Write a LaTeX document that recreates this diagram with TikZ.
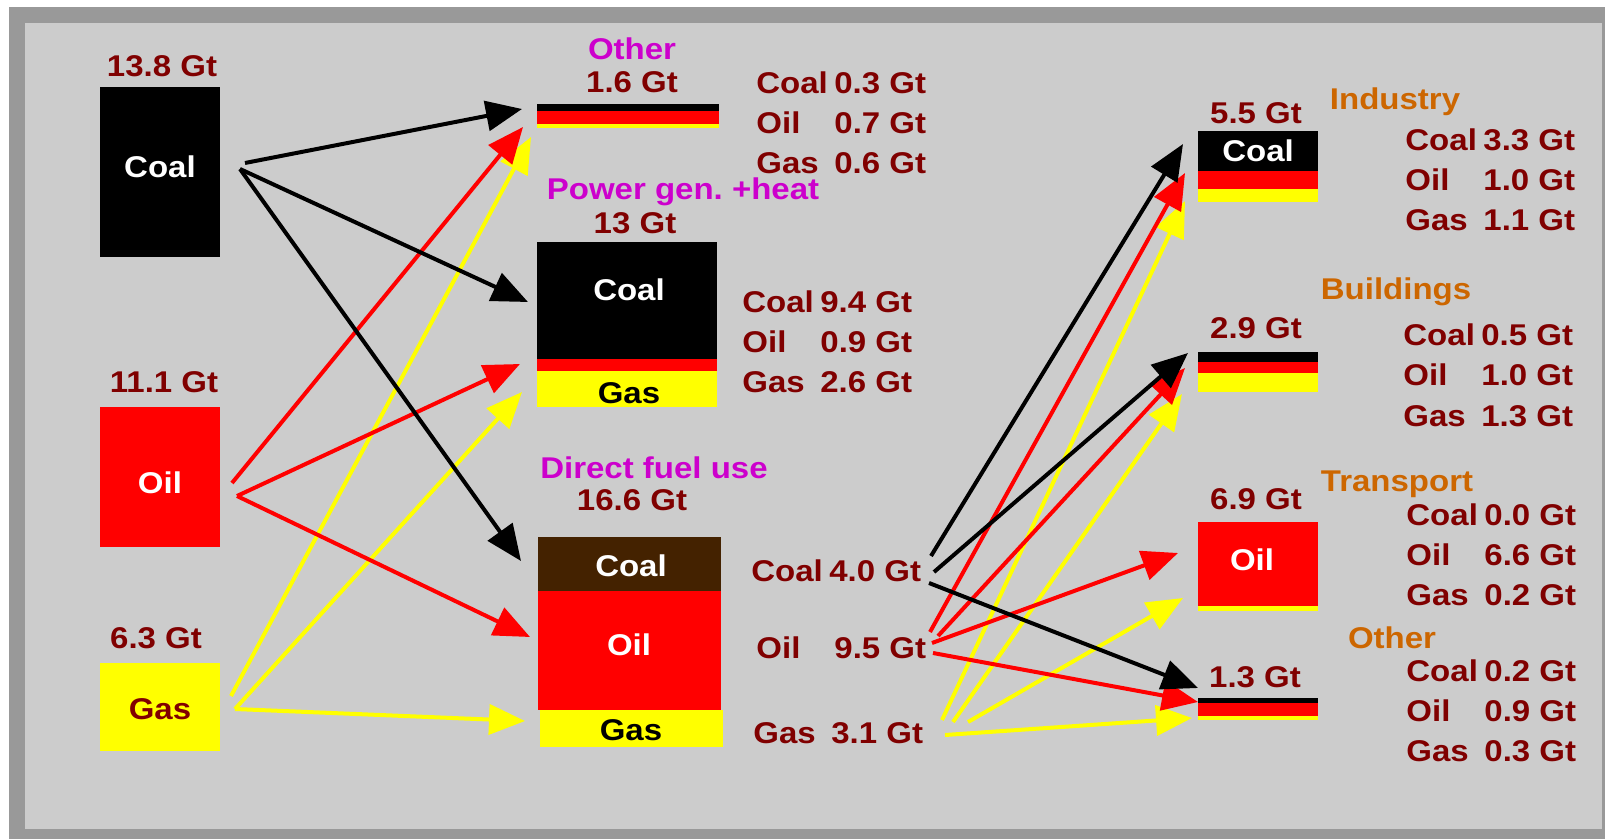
\documentclass[tikz,border=0pt]{standalone}
\usepackage{fontspec}
\setmainfont{Liberation Sans}[FakeStretch=1.1]
\usetikzlibrary{arrows.meta, calc}
\definecolor{frame1}{RGB}{153,153,153}
\definecolor{panel1}{RGB}{204,204,204}
\definecolor{darkred1}{RGB}{128,0,0}
\definecolor{magenta1}{RGB}{204,0,204}
\definecolor{orange1}{RGB}{204,102,0}
\definecolor{brown1}{RGB}{68,34,0}
\definecolor{red1}{RGB}{255,0,0}
\definecolor{yellow1}{RGB}{255,255,0}

\newcommand{\fuelrow}[2]{\makebox[39pt][l]{#1}#2 Gt}
\newcommand{\fuelmix}[3]{\begin{tabular}{@{}l@{}}\fuelrow{Coal}{#1}\\ \fuelrow{Oil}{#2}\\ \fuelrow{Gas}{#3}\end{tabular}}

\begin{document}
\begin{tikzpicture}[x=0.5pt, y=-0.5pt,
  txt/.style={font=\fontsize{15}{20}\selectfont\bfseries, inner sep=0pt, text height=10.7pt, text depth=0pt},
  val/.style={txt, text=darkred1},
  head/.style={txt, text=magenta1},
  sector/.style={txt, text=orange1},
  onbox/.style={txt, text=white},
  mixlist/.style={font=\fontsize{15}{20}\selectfont\bfseries, inner sep=0pt, text=darkred1, anchor=west},
  flow/.style={draw=#1, line width=2pt, -{Triangle[length=18pt, width=15pt]}}]
  \useasboundingbox (0,0) rectangle (1605,839);
  \fill[white] (0,0) rectangle (1605,839);
  \fill[frame1] (9,7) rectangle (1605,839);
  \fill[panel1] (25,23) rectangle (1602,829);

  % sources
  \fill[black] (100,87) rectangle (220,257);
  \fill[red1] (100,407) rectangle (220,547);
  \fill[yellow1] (100,663) rectangle (220,751);
  \node[val] (coaltot) at (162,66) {13.8 Gt};
  \node[onbox] (coalname) at (160,167) {Coal};
  \node[val] (oiltot) at (164,382) {11.1 Gt};
  \node[onbox] (oilname) at (160,483) {Oil};
  \node[val] (gastot) at (156,638) {6.3 Gt};
  \node[val] (gasname) at (160,709) {Gas};

  % middle column
  \fill[black] (537,104) rectangle (719,111);
  \fill[red1] (537,111) rectangle (719,124);
  \fill[yellow1] (537,124) rectangle (719,128);
  \node[head] (othhead) at (632,49) {Other};
  \node[val] (othtot) at (632,82) {1.6 Gt};
  \node[mixlist] (othmix) at (756,126) {\fuelmix{0.3}{0.7}{0.6}};

  \fill[black] (537,242) rectangle (717,359);
  \fill[red1] (537,359) rectangle (717,371);
  \fill[yellow1] (537,371) rectangle (717,407);
  \node[head] (powhead) at (683,189) {Power gen.\ +heat};
  \node[val] (powtot) at (635,223) {13 Gt};
  \node[onbox] (powcoal) at (629,290) {Coal};
  \node[txt] (powgas) at (629,393) {Gas};
  \node[mixlist] (powmix) at (742,345) {\fuelmix{9.4}{0.9}{2.6}};

  \fill[brown1] (538,537) rectangle (721,591);
  \fill[red1] (538,591) rectangle (721,710);
  \fill[yellow1] (540,710) rectangle (723,747);
  \node[head] (dirhead) at (654,468) {Direct fuel use};
  \node[val] (dirtot) at (632,500) {16.6 Gt};
  \node[onbox] (dircoal) at (631,566) {Coal};
  \node[onbox] (diroil) at (629,645) {Oil};
  \node[txt] (dirgas) at (631,730) {Gas};
  \node[val, anchor=west] (dcoal) at (751,571) {\fuelrow{Coal}{4.0}};
  \node[val, anchor=west] (doil) at (756,648) {\fuelrow{Oil}{9.5}};
  \node[val, anchor=west] (dgas) at (753,733) {\fuelrow{Gas}{3.1}};

  % end uses
  \fill[black] (1198,131) rectangle (1318,171);
  \fill[red1] (1198,171) rectangle (1318,189);
  \fill[yellow1] (1198,189) rectangle (1318,202);
  \node[val] (indtot) at (1256,113) {5.5 Gt};
  \node[onbox] (indcoal) at (1258,151) {Coal};
  \node[sector] (indhead) at (1395,99) {Industry};
  \node[mixlist] (indmix) at (1405,183) {\fuelmix{3.3}{1.0}{1.1}};

  \fill[black] (1198,352) rectangle (1318,362);
  \fill[red1] (1198,362) rectangle (1318,373);
  \fill[yellow1] (1198,373) rectangle (1318,392);
  \node[val] (bldtot) at (1256,328) {2.9 Gt};
  \node[sector] (bldhead) at (1396,289) {Buildings};
  \node[mixlist] (bldmix) at (1403,378) {\fuelmix{0.5}{1.0}{1.3}};

  \fill[red1] (1198,522) rectangle (1318,606);
  \fill[yellow1] (1198,606) rectangle (1318,611);
  \node[val] (trntot) at (1256,499) {6.9 Gt};
  \node[onbox] (trnoil) at (1252,560) {Oil};
  \node[sector] (trnhead) at (1397,481) {Transport};
  \node[mixlist] (trnmix) at (1406,557) {\fuelmix{0.0}{6.6}{0.2}};

  \fill[black] (1198,698) rectangle (1318,703);
  \fill[red1] (1198,703) rectangle (1318,716);
  \fill[yellow1] (1198,716) rectangle (1318,720);
  \node[val] (oth2tot) at (1255,677) {1.3 Gt};
  \node[sector] (oth2head) at (1392,638) {Other};
  \node[mixlist] (oth2mix) at (1406,713) {\fuelmix{0.2}{0.9}{0.3}};

  % arrow ends
  \coordinate (coal-a) at (245,163);
  \coordinate (coal-b) at (240,169);
  \coordinate (oil-a) at (232,483);
  \coordinate (oil-b) at (237,496);
  \coordinate (gas-a) at (231,696);
  \coordinate (gas-b) at (235,709);
  \coordinate (oth-coal) at (522,109);
  \coordinate (oth-oil) at (523,127);
  \coordinate (oth-gas) at (531,137);
  \coordinate (pow-coal) at (528,302);
  \coordinate (pow-oil) at (520,364);
  \coordinate (pow-gas) at (522,392);
  \coordinate (dir-coal) at (521,561);
  \coordinate (dir-oil) at (530,637);
  \coordinate (dir-gas) at (525,721);

  \coordinate (dc-1) at (931,556);
  \coordinate (dc-2) at (934,572);
  \coordinate (dc-3) at (929,583);
  \coordinate (do-1) at (930,632);
  \coordinate (do-2) at (938,636);
  \coordinate (do-3) at (932,643);
  \coordinate (do-4) at (933,653);
  \coordinate (dg-1) at (942,720);
  \coordinate (dg-2) at (953,722);
  \coordinate (dg-3) at (968,722);
  \coordinate (dg-4) at (945,735);
  \coordinate (ind-coal) at (1183,144);
  \coordinate (ind-oil) at (1185,173);
  \coordinate (ind-gas) at (1185,201);
  \coordinate (bld-coal) at (1188,353);
  \coordinate (bld-oil) at (1185,368);
  \coordinate (bld-gas) at (1182,394);
  \coordinate (trn-oil) at (1178,553);
  \coordinate (trn-gas) at (1183,598);
  \coordinate (oth2-coal) at (1198,688);
  \coordinate (oth2-oil) at (1198,702);
  \coordinate (oth2-gas) at (1192,718);

  % flows into sectors
  \draw[flow=yellow1] (gas-a) -- (oth-gas);
  \draw[flow=yellow1] (gas-b) -- (pow-gas);
  \draw[flow=yellow1] (gas-b) -- (dir-gas);
  \draw[flow=red1] (oil-a) -- (oth-oil);
  \draw[flow=red1] (oil-b) -- (pow-oil);
  \draw[flow=red1] (oil-b) -- (dir-oil);
  \draw[flow=black] (coal-a) -- (oth-coal);
  \draw[flow=black] (coal-b) -- (pow-coal);
  \draw[flow=black] (coal-b) -- (dir-coal);

  % direct use into end uses
  \draw[flow=yellow1] (dg-1) -- (ind-gas);
  \draw[flow=yellow1] (dg-2) -- (bld-gas);
  \draw[flow=yellow1] (dg-3) -- (trn-gas);
  \draw[flow=yellow1] (dg-4) -- (oth2-gas);
  \draw[flow=red1] (do-1) -- (ind-oil);
  \draw[flow=red1] (do-2) -- (bld-oil);
  \draw[flow=red1] (do-3) -- (trn-oil);
  \draw[flow=red1] (do-4) -- (oth2-oil);
  \draw[flow=black] (dc-1) -- (ind-coal);
  \draw[flow=black] (dc-2) -- (bld-coal);
  \draw[flow=black] (dc-3) -- (oth2-coal);
\end{tikzpicture}
\end{document}
